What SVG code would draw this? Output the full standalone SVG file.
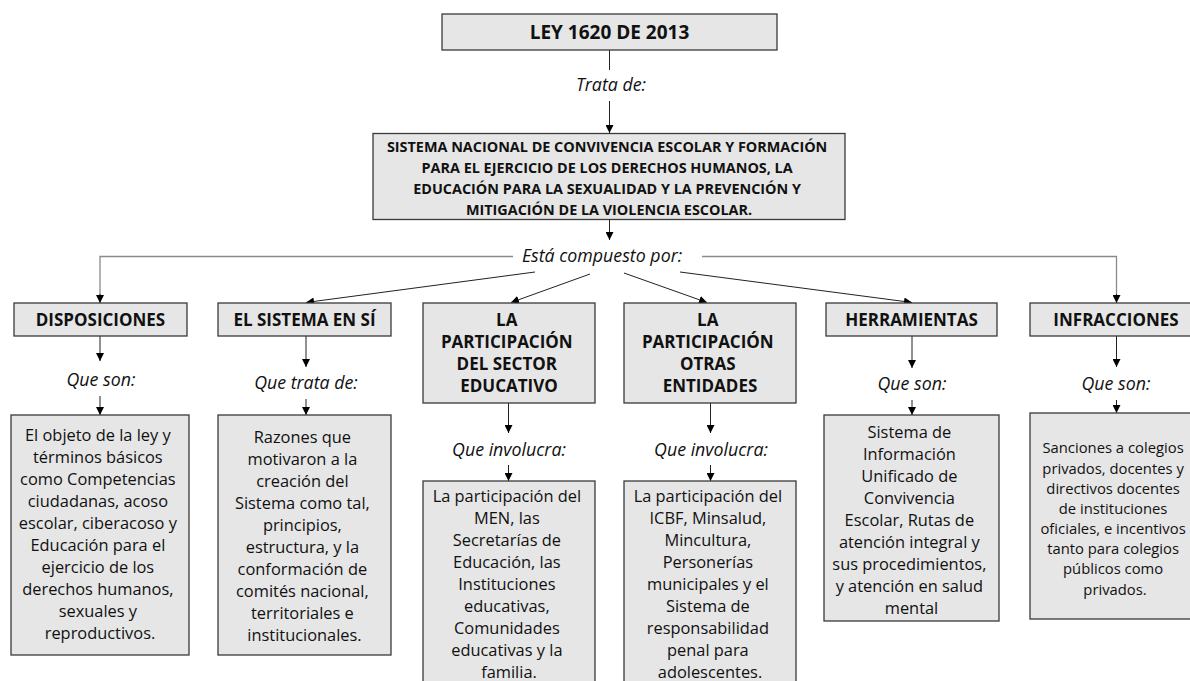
<svg xmlns="http://www.w3.org/2000/svg" width="1190" height="681" viewBox="0 0 1190 681">
<defs>
<marker id="ah" markerWidth="8" markerHeight="8" refX="8" refY="4" orient="auto" markerUnits="userSpaceOnUse">
<path d="M0,0 L8,4 L0,8 Z" fill="#000"/>
</marker>
<style>
.box{fill:#e6e6e6;stroke:#3a3a3a;stroke-width:1.3}
.t{font-family:"Open Sans","Noto Sans",sans-serif;fill:#111;text-anchor:middle}
.b{font-weight:bold}
.h{font-size:17px;font-weight:bold}
.body{font-size:16.4px}
.lbl{font-family:"Open Sans","Noto Sans",sans-serif;font-style:italic;font-size:17.8px;fill:#111;text-anchor:middle}
.c{stroke:#222;stroke-width:1;fill:none}
.g{stroke:#8a8a8a;stroke-width:1.3;fill:none}
</style>
</defs>
<rect width="1190" height="681" fill="#fff"/>

<g id="connectors">
<line class="c" x1="609.5" y1="50" x2="609.5" y2="70"/>
<line class="c" x1="609.5" y1="101" x2="609.5" y2="133" marker-end="url(#ah)"/>
<line class="c" x1="609.5" y1="219" x2="609.5" y2="240" marker-end="url(#ah)"/>
<polyline class="g" points="513,256.5 100,256.5 100,296"/>
<line class="c" x1="100" y1="294" x2="100" y2="303" marker-end="url(#ah)"/>
<polyline class="g" points="702,256.5 1116.5,256.5 1116.5,296"/>
<line class="c" x1="1116.5" y1="294" x2="1116.5" y2="303" marker-end="url(#ah)"/>
<line class="c" x1="535" y1="272" x2="306" y2="302.5" marker-end="url(#ah)"/>
<line class="c" x1="590" y1="274" x2="511" y2="302.5" marker-end="url(#ah)"/>
<line class="c" x1="624" y1="273" x2="707" y2="302.5" marker-end="url(#ah)"/>
<line class="c" x1="680" y1="272" x2="912" y2="302.5" marker-end="url(#ah)"/>

<line class="c" x1="100" y1="336" x2="100" y2="361" marker-end="url(#ah)"/>
<line class="c" x1="100" y1="396" x2="100" y2="415" marker-end="url(#ah)"/>
<line class="c" x1="306" y1="336" x2="306" y2="367" marker-end="url(#ah)"/>
<line class="c" x1="306" y1="399" x2="306" y2="415" marker-end="url(#ah)"/>
<line class="c" x1="508.5" y1="403" x2="508.5" y2="433" marker-end="url(#ah)"/>
<line class="c" x1="508.5" y1="465" x2="508.5" y2="481" marker-end="url(#ah)"/>
<line class="c" x1="710.5" y1="403" x2="710.5" y2="433" marker-end="url(#ah)"/>
<line class="c" x1="710.5" y1="465" x2="710.5" y2="481" marker-end="url(#ah)"/>
<line class="c" x1="912" y1="336" x2="912" y2="368" marker-end="url(#ah)"/>
<line class="c" x1="912" y1="400" x2="912" y2="415" marker-end="url(#ah)"/>
<line class="c" x1="1116.5" y1="336" x2="1116.5" y2="367" marker-end="url(#ah)"/>
<line class="c" x1="1116.5" y1="400" x2="1116.5" y2="413" marker-end="url(#ah)"/>
</g>

<g id="labels">
<text class="lbl" x="611" y="91">Trata de:</text>
<text class="lbl" x="602" y="262">Está compuesto por:</text>
<text class="lbl" x="101" y="386">Que son:</text>
<text class="lbl" x="306" y="389">Que trata de:</text>
<text class="lbl" x="509" y="456">Que involucra:</text>
<text class="lbl" x="711" y="456">Que involucra:</text>
<text class="lbl" x="912" y="390">Que son:</text>
<text class="lbl" x="1116" y="390">Que son:</text>
</g>

<g id="n-ley">
<rect class="box" x="442" y="14" width="335" height="36"/>
<text class="t b" x="609.5" y="38.5" font-size="19">LEY 1620 DE 2013</text>
</g>

<g id="n-sistema-nacional">
<rect class="box" x="373" y="133.5" width="472" height="86"/>
<text class="t b" font-size="14.4">
<tspan x="609" y="151.5">SISTEMA NACIONAL DE CONVIVENCIA ESCOLAR Y FORMACIÓN</tspan>
<tspan x="609" y="172.5">PARA EL EJERCICIO DE LOS DERECHOS HUMANOS, LA</tspan>
<tspan x="609" y="193.5">EDUCACIÓN PARA LA SEXUALIDAD Y LA PREVENCIÓN Y</tspan>
<tspan x="609" y="214.5">MITIGACIÓN DE LA VIOLENCIA ESCOLAR.</tspan>
</text>
</g>

<g id="n-disposiciones">
<rect class="box" x="14" y="303" width="173" height="33"/>
<text class="t h" x="100.5" y="325.5">DISPOSICIONES</text>
</g>
<g id="n-sistema-en-si">
<rect class="box" x="218" y="303" width="173" height="33"/>
<text class="t h" x="304.5" y="325.5">EL SISTEMA EN SÍ</text>
</g>
<g id="n-sector-educativo">
<rect class="box" x="423" y="303" width="172" height="100"/>
<text class="t h">
<tspan x="509" y="326">LA</tspan>
<tspan x="509" y="348">PARTICIPACIÓN</tspan>
<tspan x="509" y="370">DEL SECTOR</tspan>
<tspan x="509" y="392">EDUCATIVO</tspan>
</text>
</g>
<g id="n-otras-entidades">
<rect class="box" x="624" y="303" width="172" height="100"/>
<text class="t h">
<tspan x="710" y="326">LA</tspan>
<tspan x="710" y="348">PARTICIPACIÓN</tspan>
<tspan x="710" y="370">OTRAS</tspan>
<tspan x="710" y="392">ENTIDADES</tspan>
</text>
</g>
<g id="n-herramientas">
<rect class="box" x="826" y="303" width="171" height="33"/>
<text class="t h" x="911.5" y="325.5">HERRAMIENTAS</text>
</g>
<g id="n-infracciones">
<rect class="box" x="1030" y="303" width="172" height="33"/>
<text class="t h" x="1116" y="325.5">INFRACCIONES</text>
</g>

<g id="d-disposiciones">
<rect class="box" x="11" y="415" width="178" height="240"/>
<text class="t body">
<tspan x="100" y="441">El objeto de la ley y</tspan>
<tspan x="100" y="463">términos básicos</tspan>
<tspan x="100" y="485">como Competencias</tspan>
<tspan x="100" y="507">ciudadanas, acoso</tspan>
<tspan x="100" y="529">escolar, ciberacoso y</tspan>
<tspan x="100" y="551">Educación para el</tspan>
<tspan x="100" y="573">ejercicio de los</tspan>
<tspan x="100" y="595">derechos humanos,</tspan>
<tspan x="100" y="617">sexuales y</tspan>
<tspan x="100" y="639">reproductivos.</tspan>
</text>
</g>
<g id="d-sistema-en-si">
<rect class="box" x="218" y="415" width="173" height="240"/>
<text class="t body">
<tspan x="304.5" y="443">Razones que</tspan>
<tspan x="304.5" y="465">motivaron a la</tspan>
<tspan x="304.5" y="487">creación del</tspan>
<tspan x="304.5" y="509">Sistema como tal,</tspan>
<tspan x="304.5" y="531">principios,</tspan>
<tspan x="304.5" y="553">estructura, y la</tspan>
<tspan x="304.5" y="575">conformación de</tspan>
<tspan x="304.5" y="597">comités nacional,</tspan>
<tspan x="304.5" y="619">territoriales e</tspan>
<tspan x="304.5" y="641">institucionales.</tspan>
</text>
</g>
<g id="d-sector-educativo">
<rect class="box" x="423" y="481" width="172" height="215"/>
<text class="t body">
<tspan x="509" y="502">La participación del</tspan>
<tspan x="509" y="524">MEN, las</tspan>
<tspan x="509" y="546">Secretarías de</tspan>
<tspan x="509" y="568">Educación, las</tspan>
<tspan x="509" y="590">Instituciones</tspan>
<tspan x="509" y="612">educativas,</tspan>
<tspan x="509" y="634">Comunidades</tspan>
<tspan x="509" y="656">educativas y la</tspan>
<tspan x="509" y="678">familia.</tspan>
</text>
</g>
<g id="d-otras-entidades">
<rect class="box" x="624" y="481" width="172" height="215"/>
<text class="t body">
<tspan x="710" y="502">La participación del</tspan>
<tspan x="710" y="524">ICBF, Minsalud,</tspan>
<tspan x="710" y="546">Mincultura,</tspan>
<tspan x="710" y="568">Personerías</tspan>
<tspan x="710" y="590">municipales y el</tspan>
<tspan x="710" y="612">Sistema de</tspan>
<tspan x="710" y="634">responsabilidad</tspan>
<tspan x="710" y="656">penal para</tspan>
<tspan x="710" y="678">adolescentes.</tspan>
</text>
</g>
<g id="d-herramientas">
<rect class="box" x="824" y="415" width="175" height="206"/>
<text class="t body">
<tspan x="911.5" y="438">Sistema de</tspan>
<tspan x="911.5" y="460">Información</tspan>
<tspan x="911.5" y="482">Unificado de</tspan>
<tspan x="911.5" y="504">Convivencia</tspan>
<tspan x="911.5" y="526">Escolar, Rutas de</tspan>
<tspan x="911.5" y="548">atención integral y</tspan>
<tspan x="911.5" y="570">sus procedimientos,</tspan>
<tspan x="911.5" y="592">y atención en salud</tspan>
<tspan x="911.5" y="614">mental</tspan>
</text>
</g>
<g id="d-infracciones">
<rect class="box" x="1030" y="413" width="172" height="206"/>
<text class="t" font-size="14.8">
<tspan x="1115" y="453">Sanciones a colegios</tspan>
<tspan x="1115" y="473.5">privados, docentes y</tspan>
<tspan x="1115" y="493.5">directivos docentes</tspan>
<tspan x="1115" y="513.5">de instituciones</tspan>
<tspan x="1115" y="533.5">oficiales, e incentivos</tspan>
<tspan x="1115" y="553.5">tanto para colegios</tspan>
<tspan x="1115" y="573.5">públicos como</tspan>
<tspan x="1115" y="595">privados.</tspan>
</text>
</g>
</svg>
